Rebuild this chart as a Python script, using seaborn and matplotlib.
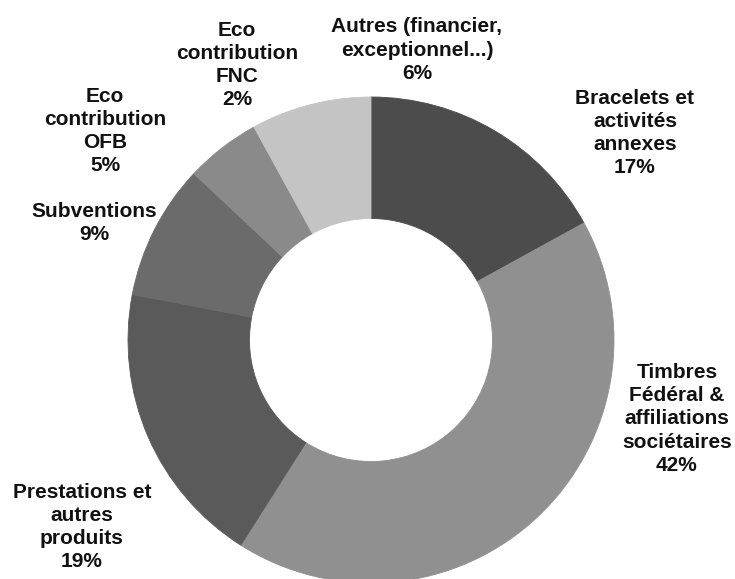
import matplotlib
matplotlib.use("Agg")
import matplotlib.pyplot as plt
import seaborn as sns

# données (en %)
categories = [
    "Bracelets et\nactivités\nannexes",
    "Timbres\nFédéral &\naffiliations\nsociétaires",
    "Prestations et\nautres\nproduits",
    "Subventions",
    "Eco\ncontribution\nOFB",
    "Eco\ncontribution\nFNC",
    "Autres (financier,\nexceptionnel...)",
]
values = [17, 42, 19, 9, 5, 2, 6]
colors = ["#4c4c4c", "#909090", "#5a5a5a", "#6b6b6b", "#8a8a8a", "#c4c4c4", "#c4c4c4"]

# position des étiquettes (pixels, origine en haut à gauche)
label_pos = [(635, 133), (677, 419), (82, 527), (94, 223), (105, 131), (237, 65), (417, 50)]

sns.set_theme(style="white")
plt.rcParams["font.family"] = ["Liberation Sans", "DejaVu Sans"]

W, H = 735, 579
fig = plt.figure(figsize=(W / 100, H / 100), dpi=100)
ax = fig.add_axes([0, 0, 1, 1])

cx, cy, R = 371, H - 340, 243
wedges, _ = ax.pie(values, colors=sns.color_palette(colors), startangle=90, counterclock=False,
                   center=(cx, cy), radius=R, wedgeprops=dict(width=R * 0.5))
for w in wedges:
    w.set_edgecolor(w.get_facecolor())
    w.set_linewidth(0.6)

ax.set_xlim(0, W)
ax.set_ylim(0, H)
ax.set_aspect("equal")
ax.axis("off")

for name, v, (x, y) in zip(categories, values, label_pos):
    ax.text(x, H - y, f"{name}\n{v}%", ha="center", va="center",
            fontsize=15, fontweight="bold", color="#111111", linespacing=1.28)

fig.savefig("out.png", dpi=100, facecolor="white")
